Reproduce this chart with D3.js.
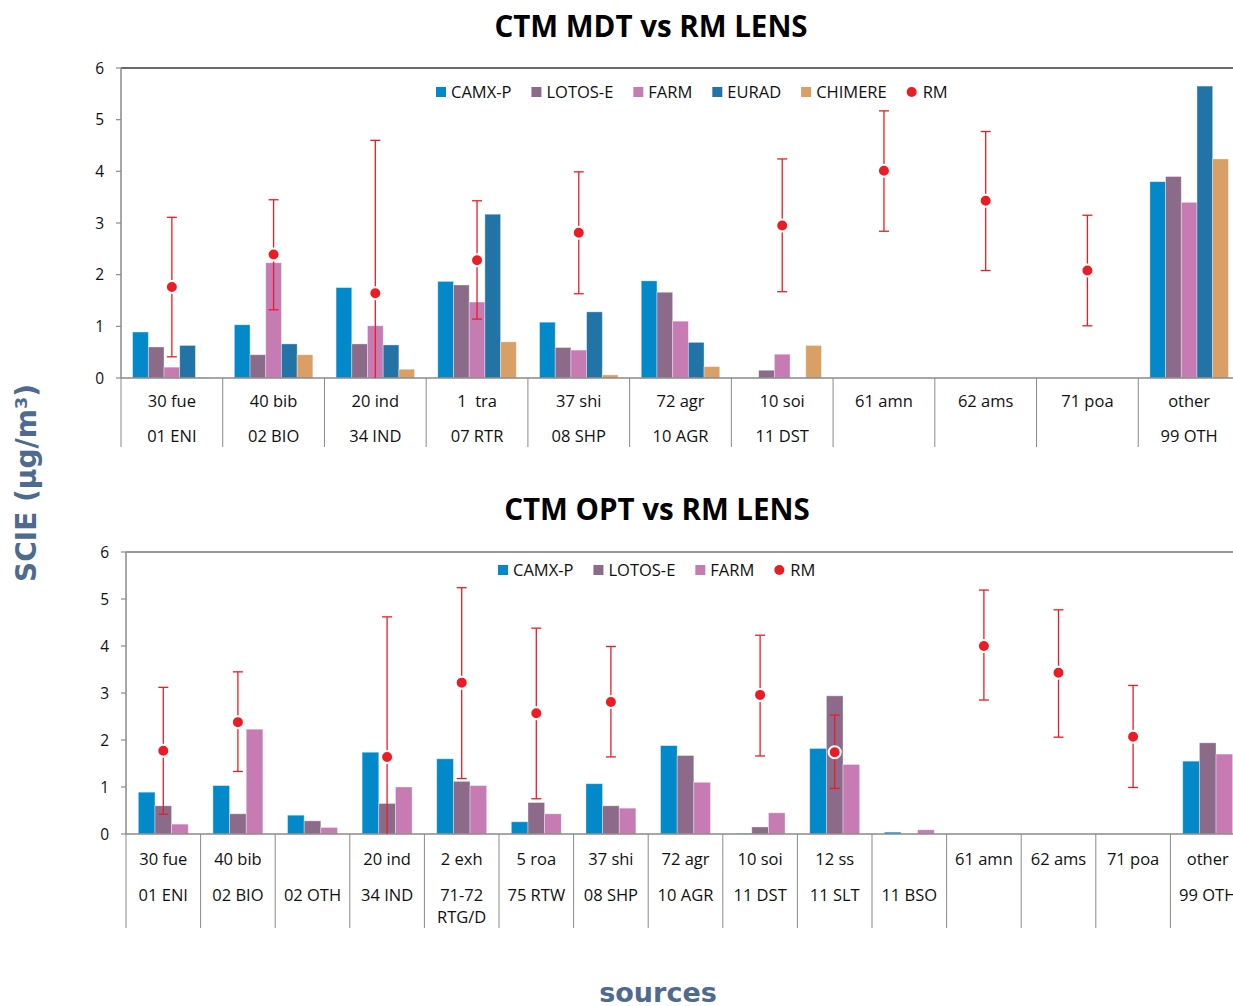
<!DOCTYPE html>
<html><head><meta charset="utf-8">
<script src="https://cdn.jsdelivr.net/npm/d3@7"></script>
<style>body{margin:0;background:#fff}svg{display:block}text{white-space:pre}</style>
</head><body>
<svg id="c" width="1233" height="1006"></svg>
<script>
// ---------- DATA ----------
const seriesTop = ["CAMX-P","LOTOS-E","FARM","EURAD","CHIMERE"];
const seriesBot = ["CAMX-P","LOTOS-E","FARM"];

const topRow1 = ["30 fue","40 bib","20 ind","1  tra","37 shi","72 agr","10 soi","61 amn","62 ams","71 poa","other"];
const topRow2 = ["01 ENI","02 BIO","34 IND","07 RTR","08 SHP","10 AGR","11 DST","","","","99 OTH"];
const topCAMX    = [0.89,1.03,1.75,1.87,1.08,1.88,0,0,0,0,3.80];
const topLOTOS   = [0.60,0.45,0.66,1.80,0.59,1.66,0.15,0,0,0,3.90];
const topFARM    = [0.21,2.23,1.01,1.47,0.54,1.10,0.46,0,0,0,3.40];
const topEURAD   = [0.63,0.66,0.64,3.17,1.28,0.69,0,0,0,0,5.65];
const topCHIMERE = [0.01,0.45,0.17,0.70,0.06,0.22,0.63,0,0,0,4.24];
const topRM      = [1.76,2.39,1.64,2.28,2.81,null,2.95,4.01,3.43,2.08,null];
const topRMHigh  = [3.11,3.45,4.60,3.43,3.99,null,4.24,5.17,4.77,3.15,null];
const topRMLow   = [0.41,1.32,-0.5,1.14,1.63,null,1.67,2.84,2.08,1.01,null];

const botRow1 = ["30 fue","40 bib","","20 ind","2 exh","5 roa","37 shi","72 agr","10 soi","12 ss","","61 amn","62 ams","71 poa","other"];
const botRow2 = ["01 ENI","02 BIO","02 OTH","34 IND","71-72 RTG/D","75 RTW","08 SHP","10 AGR","11 DST","11 SLT","11 BSO","","","","99 OTH"];
const botCAMX  = [0.89,1.03,0.40,1.74,1.60,0.26,1.07,1.88,0.01,1.82,0.04,0,0,0,1.55];
const botLOTOS = [0.60,0.43,0.28,0.65,1.12,0.67,0.60,1.67,0.15,2.94,0,0,0,0,1.94];
const botFARM  = [0.21,2.23,0.14,1.00,1.03,0.43,0.55,1.10,0.45,1.48,0.09,0,0,0,1.70];
const botRM     = [1.77,2.38,null,1.64,3.22,2.57,2.81,null,2.96,1.74,null,4.00,3.43,2.07,null];
const botRMHigh = [3.12,3.45,null,4.62,5.24,4.38,3.99,null,4.23,2.53,null,5.19,4.77,3.16,null];
const botRMLow  = [0.42,1.33,null,-0.5,1.18,0.75,1.64,null,1.66,0.97,null,2.85,2.06,0.99,null];

const yTicks = [0,1,2,3,4,5,6];
const titles = ["CTM MDT vs RM LENS","CTM OPT vs RM LENS"];
const yLabel = "SCIE (µg/m³)";
const xLabel = "sources";

// ---------- STYLE ----------
const colors = {"CAMX-P":"#0189CA","LOTOS-E":"#8C6A8A","FARM":"#C67BB3","EURAD":"#2273A6","CHIMERE":"#D99F65"};
const RED = "#EC1C24";
const FONT = "'Open Sans', sans-serif";
const LAB_SZ = 16.5, LEG_SZ = 16.5, TICK_SZ = 15.5;

const svg = d3.select("#c");

function wrapWords(text, maxW, sz){
  const tmp = svg.append("text").attr("font-family",FONT).attr("font-size",sz);
  const words = text.split(" ");
  const lines=[]; let cur="";
  for(const w of words){
    const t = cur? cur+" "+w : w;
    tmp.text(t);
    if(tmp.node().getComputedTextLength()>maxW && cur){ lines.push(cur); cur=w; } else cur=t;
  }
  if(cur) lines.push(cur);
  tmp.remove();
  return lines;
}

function drawChart(cfg){
  const g = svg.append("g");
  const n = cfg.row1.length;
  const cats = d3.range(n);
  const x = d3.scaleBand().domain(cats).range([cfg.left, cfg.right]).padding(0);
  const bw = x.bandwidth();
  const xs = d3.scaleBand().domain(cfg.series).range([0, bw]).paddingOuter(cfg.outer).paddingInner(0);
  const y = d3.scaleLinear().domain([0,6]).range([cfg.bottom, cfg.top]);

  g.append("line").attr("x1",cfg.left).attr("x2",1233).attr("y1",cfg.top).attr("y2",cfg.top)
    .attr("stroke",cfg.borderColor).attr("stroke-width",1.5);

  cfg.series.forEach((s,si)=>{
    g.append("g").selectAll("rect").data(cats).join("rect")
      .attr("x", i=>x(i)+xs(s)).attr("width", xs.bandwidth())
      .attr("y", i=>y(cfg.values[si][i])).attr("height", i=>y(0)-y(cfg.values[si][i]))
      .attr("fill", colors[s]).attr("stroke","#fff").attr("stroke-opacity",0.45).attr("stroke-width",0.8);
  });

  g.append("line").attr("x1",cfg.left).attr("x2",1233).attr("y1",y(0)).attr("y2",y(0))
    .attr("stroke","#8a8a8a").attr("stroke-width",1.5);
  g.append("g").selectAll("line").data(d3.range(n+1)).join("line")
    .attr("x1",i=>cfg.left+i*bw).attr("x2",i=>cfg.left+i*bw)
    .attr("y1",y(0)).attr("y2",cfg.sepBottom).attr("stroke","#8a8a8a").attr("stroke-width",1);
  g.append("line").attr("x1",cfg.left).attr("x2",cfg.left).attr("y1",cfg.top).attr("y2",cfg.bottom)
    .attr("stroke","#8a8a8a").attr("stroke-width",1.5);
  g.append("g").selectAll("line").data(yTicks).join("line")
    .attr("x1",cfg.left-5).attr("x2",cfg.left).attr("y1",d=>y(d)).attr("y2",d=>y(d))
    .attr("stroke","#8a8a8a").attr("stroke-width",1.2);
  g.append("g").selectAll("text").data(yTicks).join("text")
    .attr("x",cfg.left-cfg.tickGap).attr("y",d=>y(d)).attr("dy","0.36em")
    .attr("text-anchor","end").attr("font-family",FONT).attr("font-size",TICK_SZ).attr("fill","#111").text(d=>d);

  const lab = g.append("g").attr("font-family",FONT).attr("font-size",LAB_SZ).attr("fill","#111").attr("text-anchor","middle");
  cats.forEach(i=>{
    const cx = x(i)+bw/2;
    if(cfg.row1[i]) lab.append("text").attr("x",cx).attr("y",cfg.row1Y).text(cfg.row1[i]);
    if(cfg.row2[i]){
      const lines = wrapWords(cfg.row2[i], bw-8, LAB_SZ);
      lines.forEach((l,k)=>lab.append("text").attr("x",cx).attr("y",cfg.row2Y+k*22).text(l));
    }
  });

  const clipId = "clip"+cfg.id;
  svg.append("clipPath").attr("id",clipId).append("rect")
    .attr("x",cfg.left).attr("y",cfg.top-20).attr("width",1233-cfg.left).attr("height",cfg.bottom-cfg.top+20);
  const rmIdx = cats.filter(i=>cfg.rm[i]!=null);
  const eb = g.append("g").attr("clip-path",`url(#${clipId})`).attr("stroke",RED).attr("stroke-width",1.3);
  rmIdx.forEach(i=>{
    const cx = x(i)+bw/2;
    eb.append("line").attr("x1",cx).attr("x2",cx).attr("y1",y(cfg.hi[i])).attr("y2",y(cfg.lo[i]));
    eb.append("line").attr("x1",cx-5).attr("x2",cx+5).attr("y1",y(cfg.hi[i])).attr("y2",y(cfg.hi[i]));
    eb.append("line").attr("x1",cx-5).attr("x2",cx+5).attr("y1",y(cfg.lo[i])).attr("y2",y(cfg.lo[i]));
  });
  g.append("g").selectAll("circle").data(rmIdx).join("circle")
    .attr("cx",i=>x(i)+bw/2).attr("cy",i=>y(cfg.rm[i])).attr("r",6)
    .attr("fill",RED).attr("stroke","#fff").attr("stroke-width",2);

  const lg = g.append("g").attr("font-family",FONT).attr("font-size",LEG_SZ).attr("fill","#111");
  let lx = cfg.legendX; const ly = cfg.legendY;
  cfg.series.concat(["RM"]).forEach(s=>{
    if(s==="RM"){
      lg.append("circle").attr("cx",lx+5).attr("cy",ly).attr("r",5).attr("fill",RED);
    } else {
      lg.append("rect").attr("x",lx).attr("y",ly-5).attr("width",10).attr("height",10).attr("fill",colors[s]);
    }
    const t = lg.append("text").attr("x",lx+(s==="RM"?16:15)).attr("y",ly).attr("dy","0.36em").text(s);
    lx = lx + (s==="RM"?16:15) + t.node().getComputedTextLength() + cfg.legendGap;
  });

  svg.append("text").attr("x",cfg.titleX).attr("y",cfg.titleY).attr("text-anchor","middle")
    .attr("font-family",FONT).attr("font-weight","bold").attr("font-size",29.5)
    .attr("fill","#000").text(cfg.title);
}

drawChart({id:"t", row1:topRow1,row2:topRow2, series:seriesTop,
  values:[topCAMX,topLOTOS,topFARM,topEURAD,topCHIMERE], rm:topRM,hi:topRMHigh,lo:topRMLow,
  left:121,right:1240,top:68,bottom:378,sepBottom:447,outer:0.74,tickGap:17,
  row1Y:407,row2Y:442,legendX:436,legendY:92,legendGap:20,borderColor:"#3a3a3a",
  title:titles[0],titleX:651,titleY:37});

drawChart({id:"b", row1:botRow1,row2:botRow2, series:seriesBot,
  values:[botCAMX,botLOTOS,botFARM], rm:botRM,hi:botRMHigh,lo:botRMLow,
  left:126,right:1245,top:552,bottom:834,sepBottom:928,outer:0.74,tickGap:17,
  row1Y:865,row2Y:901,legendX:498,legendY:570,legendGap:20,borderColor:"#7a7a7a",
  title:titles[1],titleX:657,titleY:520});

svg.append("text").attr("transform","translate(36,483) rotate(-90)").attr("text-anchor","middle")
  .attr("font-family","'DejaVu Sans', sans-serif").attr("font-weight","bold").attr("font-size",28)
  .attr("fill","#4F6A8F").text(yLabel);
svg.append("text").attr("x",658).attr("y",1002).attr("text-anchor","middle")
  .attr("font-family","'DejaVu Sans', sans-serif").attr("font-weight","bold").attr("font-size",27)
  .attr("fill","#4F6A8F").text(xLabel);
</script>
</body></html>
